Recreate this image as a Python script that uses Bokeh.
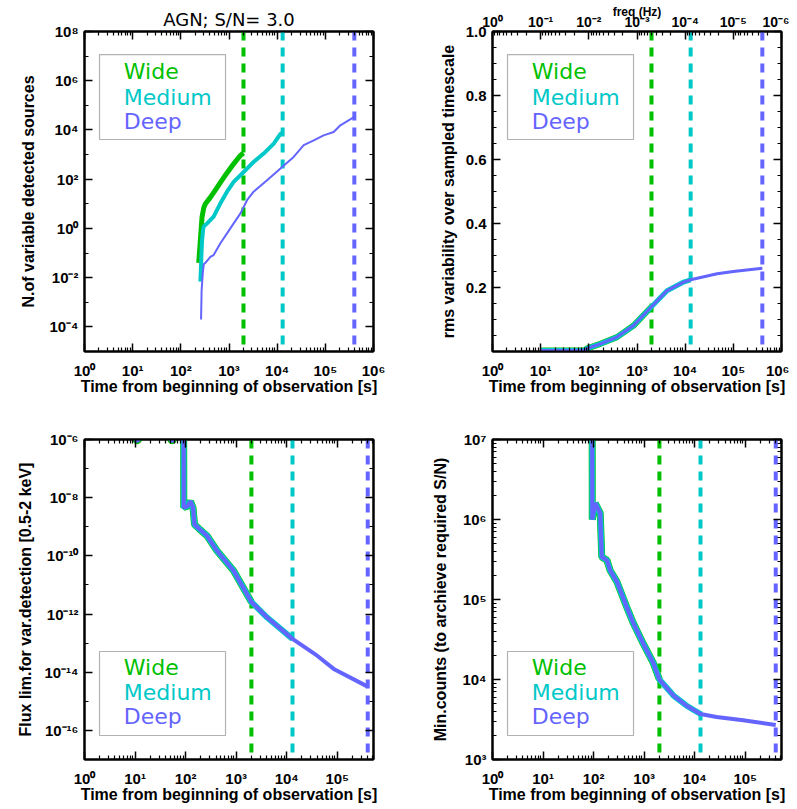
import math
from bokeh.plotting import figure
from bokeh.layouts import row, column
from bokeh.models import (LogAxis, LinearAxis, FixedTicker, CustomJSTickFormatter,
                          PrintfTickFormatter, Span, Label, BoxAnnotation, Range1d)
from bokeh.embed import file_html
from bokeh.resources import INLINE

# ------------------------------------------------------------------ data
survey_names = ["Wide", "Medium", "Deep"]
survey_colors = ["#00c000", "#00c8c8", "#6464ff"]
survey_exptime = [2000, 13000, 400000]          # s  (dashed vertical lines)

# panel 1: number of variable detected sources
wide_t = [235, 245, 255, 265, 276, 300, 324, 400, 500, 660, 900, 1250, 1700, 2000]
wide_n = [0.04, 0.12, 0.35, 1.0, 3.0, 7.0, 10.0, 17, 32, 72, 175, 420, 900, 1150]
med_t = [255, 265, 275, 290, 299, 351, 480, 663, 910, 1250, 1730, 2370, 3240, 5240, 8500, 11700, 13000]
med_n = [0.007, 0.05, 0.3, 0.9, 1.2, 1.6, 3.0, 10.5, 31, 78, 145, 270, 500, 1100, 2800, 7000, 7600]
deep_t = [263, 270, 285, 299, 324, 410, 480, 663, 910, 1250, 1730, 2370, 3240, 6170, 11700,
          22000, 35600, 57500, 92000, 149000, 205000, 400000]
deep_n = [2e-4, 3e-3, 0.015, 0.035, 0.04, 0.07, 0.083, 0.25, 0.63, 1.6, 4.1, 14, 31, 91, 270,
          800, 2400, 3800, 6000, 8300, 15500, 34000]

# panel 2: rms variability over sampled timescale
rms_t = [10, 85, 90, 107, 174, 385, 850, 2000, 4200, 9300, 13000, 46000, 100000, 400000]
rms_v = [0.003, 0.003, 0.009, 0.013, 0.024, 0.045, 0.081, 0.14, 0.19, 0.217, 0.224, 0.243, 0.25, 0.26]

# panel 3: flux limit for variability detection
flux_t = [91, 92, 108, 125, 140, 150, 185, 265, 417, 890, 2000, 4100, 13000, 40000, 85000, 400000]
flux_f = [1e-3, 4.6e-9, 5.0e-9, 7.5e-9, 4.5e-9, 1.2e-9, 8.5e-10, 4.9e-10, 1.5e-10, 3.1e-11,
          2.6e-12, 7.6e-13, 1.4e-13, 3.7e-14, 1.3e-14, 3.2e-15]
flux_dot_t = [11, 54]
flux_dot_f = [1e-6, 1e-6]

# panel 4: minimum counts to achieve required S/N
cnt_t = [93, 94, 108, 135, 145, 183, 213, 290, 453, 615, 960, 1520, 2000, 3800, 6900, 13000,
         27000, 91000, 400000]
cnt_c = [1e9, 1.0e6, 1.6e6, 1.2e6, 3.4e5, 3.1e5, 2.3e5, 1.66e5, 8.0e4, 5.0e4, 2.8e4, 1.6e4,
         1.0e4, 6.3e3, 4.7e3, 3.7e3, 3.4e3, 3.1e3, 2.7e3]

title_text = "AGN; S/N= 3.0"
xlabel = "Time from beginning of observation [s]"
freq_label = "freq (Hz)"

# ------------------------------------------------------------------ helpers
TICK_FONT = "Liberation Sans"
LEG_FONT = "DejaVu Sans"

SUP_JS = """
const sup = {"-":"\\u207b","0":"\\u2070","1":"\\u00b9","2":"\\u00b2","3":"\\u00b3","4":"\\u2074",
             "5":"\\u2075","6":"\\u2076","7":"\\u2077","8":"\\u2078","9":"\\u2079"};
let e = Math.round(Math.log10(tick)) * SIGN;
if (e === 0) { e = 0; }
return "10" + String(e).split("").map(c => sup[c]).join("");
"""


def log_fmt(sign=1):
    return CustomJSTickFormatter(code=SUP_JS.replace("SIGN", str(sign)))


def empty_fmt():
    return CustomJSTickFormatter(code="return '';")


def decade_ticker(lo_exp, hi_exp, step, rng, reverse_minor=False):
    lo, hi = rng
    major = [10.0 ** e for e in range(lo_exp, hi_exp + 1, step) if lo <= 10.0 ** e <= hi * 1.0000001]
    minor = []
    for e in range(lo_exp - 1, hi_exp + 1):
        if step == 1:
            for k in range(2, 10):
                v = (10.0 ** (e + 1)) / k if reverse_minor else k * 10.0 ** e
                if lo <= v <= hi:
                    minor.append(v)
        else:
            v = 10.0 ** e
            if lo <= v <= hi and (e - lo_exp) % step != 0:
                minor.append(v)
    return FixedTicker(ticks=major, minor_ticks=minor)


def style_axis(ax, labels=True):
    ax.axis_line_width = 2
    ax.axis_line_color = "black"
    ax.major_tick_in = 8
    ax.major_tick_out = 0
    ax.minor_tick_in = 4
    ax.minor_tick_out = 0
    ax.major_tick_line_width = 1.5
    ax.minor_tick_line_width = 1.2
    ax.major_label_text_font = TICK_FONT
    ax.major_label_text_font_style = "bold"
    ax.major_label_text_font_size = "15px"
    ax.major_label_text_color = "black"
    ax.axis_label_text_font = TICK_FONT
    ax.axis_label_text_font_style = "bold"
    ax.axis_label_text_font_size = "16px"
    ax.axis_label_text_color = "black"
    if not labels:
        ax.formatter = empty_fmt()
        ax.major_label_text_font_size = "0px"
        ax.major_label_standoff = 0
        ax.axis_label = None


def lerp(lo, hi, f, log):
    if log:
        return 10 ** (math.log10(lo) + f * (math.log10(hi) - math.log10(lo)))
    return lo + f * (hi - lo)


def add_legend(p, xr, yr, ylog, fy_top, fy_bot, fy_text):
    # fractions measured from frame left / frame top
    left = lerp(*xr, 0.052, True)
    right = lerp(*xr, 0.488, True)
    top = lerp(yr[1], yr[0], fy_top, ylog)
    bot = lerp(yr[1], yr[0], fy_bot, ylog)
    p.add_layout(BoxAnnotation(left=left, right=right, top=top, bottom=bot,
                               fill_color=None, fill_alpha=0, line_color="black",
                               line_width=1.2, level="overlay"))
    tx = lerp(*xr, 0.136, True)
    for name, col, fy in zip(survey_names, survey_colors, fy_text):
        p.add_layout(Label(x=tx, y=lerp(yr[1], yr[0], fy, ylog), text=name,
                           text_color=col, text_font=LEG_FONT, text_font_size="22px",
                           text_baseline="middle", text_align="left"))


def add_spans(p):
    for t, col in zip(survey_exptime, survey_colors):
        p.add_layout(Span(location=t, dimension="height", line_color=col, line_width=4,
                          line_dash="9 7", level="underlay"))


def make_fig(xr, yr, ylog, left_panel, top_row):
    p = figure(x_axis_type="log", y_axis_type="log" if ylog else "linear",
               x_range=Range1d(*xr), y_range=Range1d(*yr),
               frame_width=289, frame_height=320,
               min_border_left=84 if left_panel else 92,
               min_border_right=27 if left_panel else 8,
               min_border_top=31 if top_row else 39,
               min_border_bottom=49,
               output_backend="svg", toolbar_location=None)
    p.xgrid.visible = False
    p.ygrid.visible = False
    p.outline_line_color = "black"
    p.outline_line_width = 2
    p.background_fill_color = "white"
    p.border_fill_color = "white"
    return p


def x_axes(p, xr, top_freq=False):
    xt = decade_ticker(0, 6, 1, xr)
    ax = p.xaxis[0]
    ax.ticker = xt
    ax.formatter = log_fmt(1)
    ax.axis_label = xlabel
    style_axis(ax)
    ax.major_label_standoff = 10
    ax.axis_label_standoff = -4
    if top_freq:
        top = LogAxis(ticker=decade_ticker(0, 6, 1, xr, reverse_minor=True), formatter=log_fmt(-1))
        style_axis(top)
        top.major_label_text_font_size = "14px"
        top.major_label_standoff = 2
        top.axis_label = freq_label
        top.axis_label_text_font_size = "12px"
        top.axis_label_standoff = -8
    else:
        top = LogAxis(ticker=xt)
        style_axis(top, labels=False)
    p.add_layout(top, "above")


def y_axes(p, ticker, fmt, label, ylog, label_standoff):
    ay = p.yaxis[0]
    ay.ticker = ticker
    ay.formatter = fmt
    ay.axis_label = label
    style_axis(ay)
    ay.major_label_standoff = 6
    ay.axis_label_standoff = label_standoff
    right = (LogAxis if ylog else LinearAxis)(ticker=ticker)
    style_axis(right, labels=False)
    p.add_layout(right, "right")


# ------------------------------------------------------------------ panel 1
xr1 = (1.0, 1.0e6)
yr1 = (1.0e-5, 1.0e8)
p1 = make_fig(xr1, yr1, True, True, True)
p1.title.text = title_text
p1.title.align = "center"
p1.title.text_font = "DejaVu Sans"
p1.title.text_font_style = "normal"
p1.title.text_font_size = "18px"
p1.title.text_color = "black"
p1.title.standoff = 4
x_axes(p1, xr1)
y_axes(p1, decade_ticker(-4, 8, 2, yr1), log_fmt(1), "N.of variable detected sources", True, 9)
add_spans(p1)
for (tt, nn), col, lw in zip([(wide_t, wide_n), (med_t, med_n), (deep_t, deep_n)],
                             survey_colors, [5, 4, 2]):
    p1.line(tt, nn, line_color=col, line_width=lw)
add_legend(p1, xr1, yr1, True, 0.072, 0.3375, [0.125, 0.206, 0.281])

# ------------------------------------------------------------------ panel 2
xr2 = (1.0, 1.0e6)
yr2 = (0.0, 1.0)
p2 = make_fig(xr2, yr2, False, False, True)
x_axes(p2, xr2, top_freq=True)
y_ticker = FixedTicker(ticks=[0.2, 0.4, 0.6, 0.8, 1.0],
                       minor_ticks=[0.05 * i for i in range(1, 20) if i % 4 != 0])
y_axes(p2, y_ticker, PrintfTickFormatter(format="%.1f"),
       "rms variability over sampled timescale", False, 6)
add_spans(p2)
for texp, col, lw in zip(survey_exptime, survey_colors, [6, 5, 3]):
    tt = [t for t in rms_t if t <= texp]
    p2.line(tt, rms_v[:len(tt)], line_color=col, line_width=lw)
add_legend(p2, xr2, yr2, False, 0.072, 0.3375, [0.125, 0.206, 0.281])

# ------------------------------------------------------------------ panel 3
xr3 = (1.0, 5.2e5)
yr3 = (1.0e-17, 1.0e-6)
p3 = make_fig(xr3, yr3, True, True, False)
x_axes(p3, xr3)
y_axes(p3, decade_ticker(-16, -6, 2, yr3), log_fmt(1),
       "Flux lim.for var.detection [0.5-2 keV]", True, 7)
add_spans(p3)
for texp, col, lw in zip(survey_exptime, survey_colors, [7, 6, 4]):
    tt = [t for t in flux_t if t <= texp]
    p3.line(tt, flux_f[:len(tt)], line_color=col, line_width=lw)
p3.scatter(flux_dot_t, flux_dot_f, size=8, fill_color=survey_colors[2],
           line_color=survey_colors[0], line_width=1.5)
add_legend(p3, xr3, yr3, True, 0.6625, 0.925, [0.7125, 0.79, 0.866])

# ------------------------------------------------------------------ panel 4
xr4 = (1.0, 5.2e5)
yr4 = (1.0e3, 1.0e7)
p4 = make_fig(xr4, yr4, True, False, False)
x_axes(p4, xr4)
y_axes(p4, decade_ticker(3, 7, 1, yr4), log_fmt(1),
       "Min.counts (to archieve required S/N)", True, 10)
add_spans(p4)
for texp, col, lw in zip(survey_exptime, survey_colors, [7, 6, 4]):
    tt = [t for t in cnt_t if t <= texp]
    p4.line(tt, cnt_c[:len(tt)], line_color=col, line_width=lw)
add_legend(p4, xr4, yr4, True, 0.6625, 0.925, [0.7125, 0.79, 0.866])

layout = column(row(p1, p2), row(p3, p4))
open("out.html", "w").write(file_html(layout, INLINE))
